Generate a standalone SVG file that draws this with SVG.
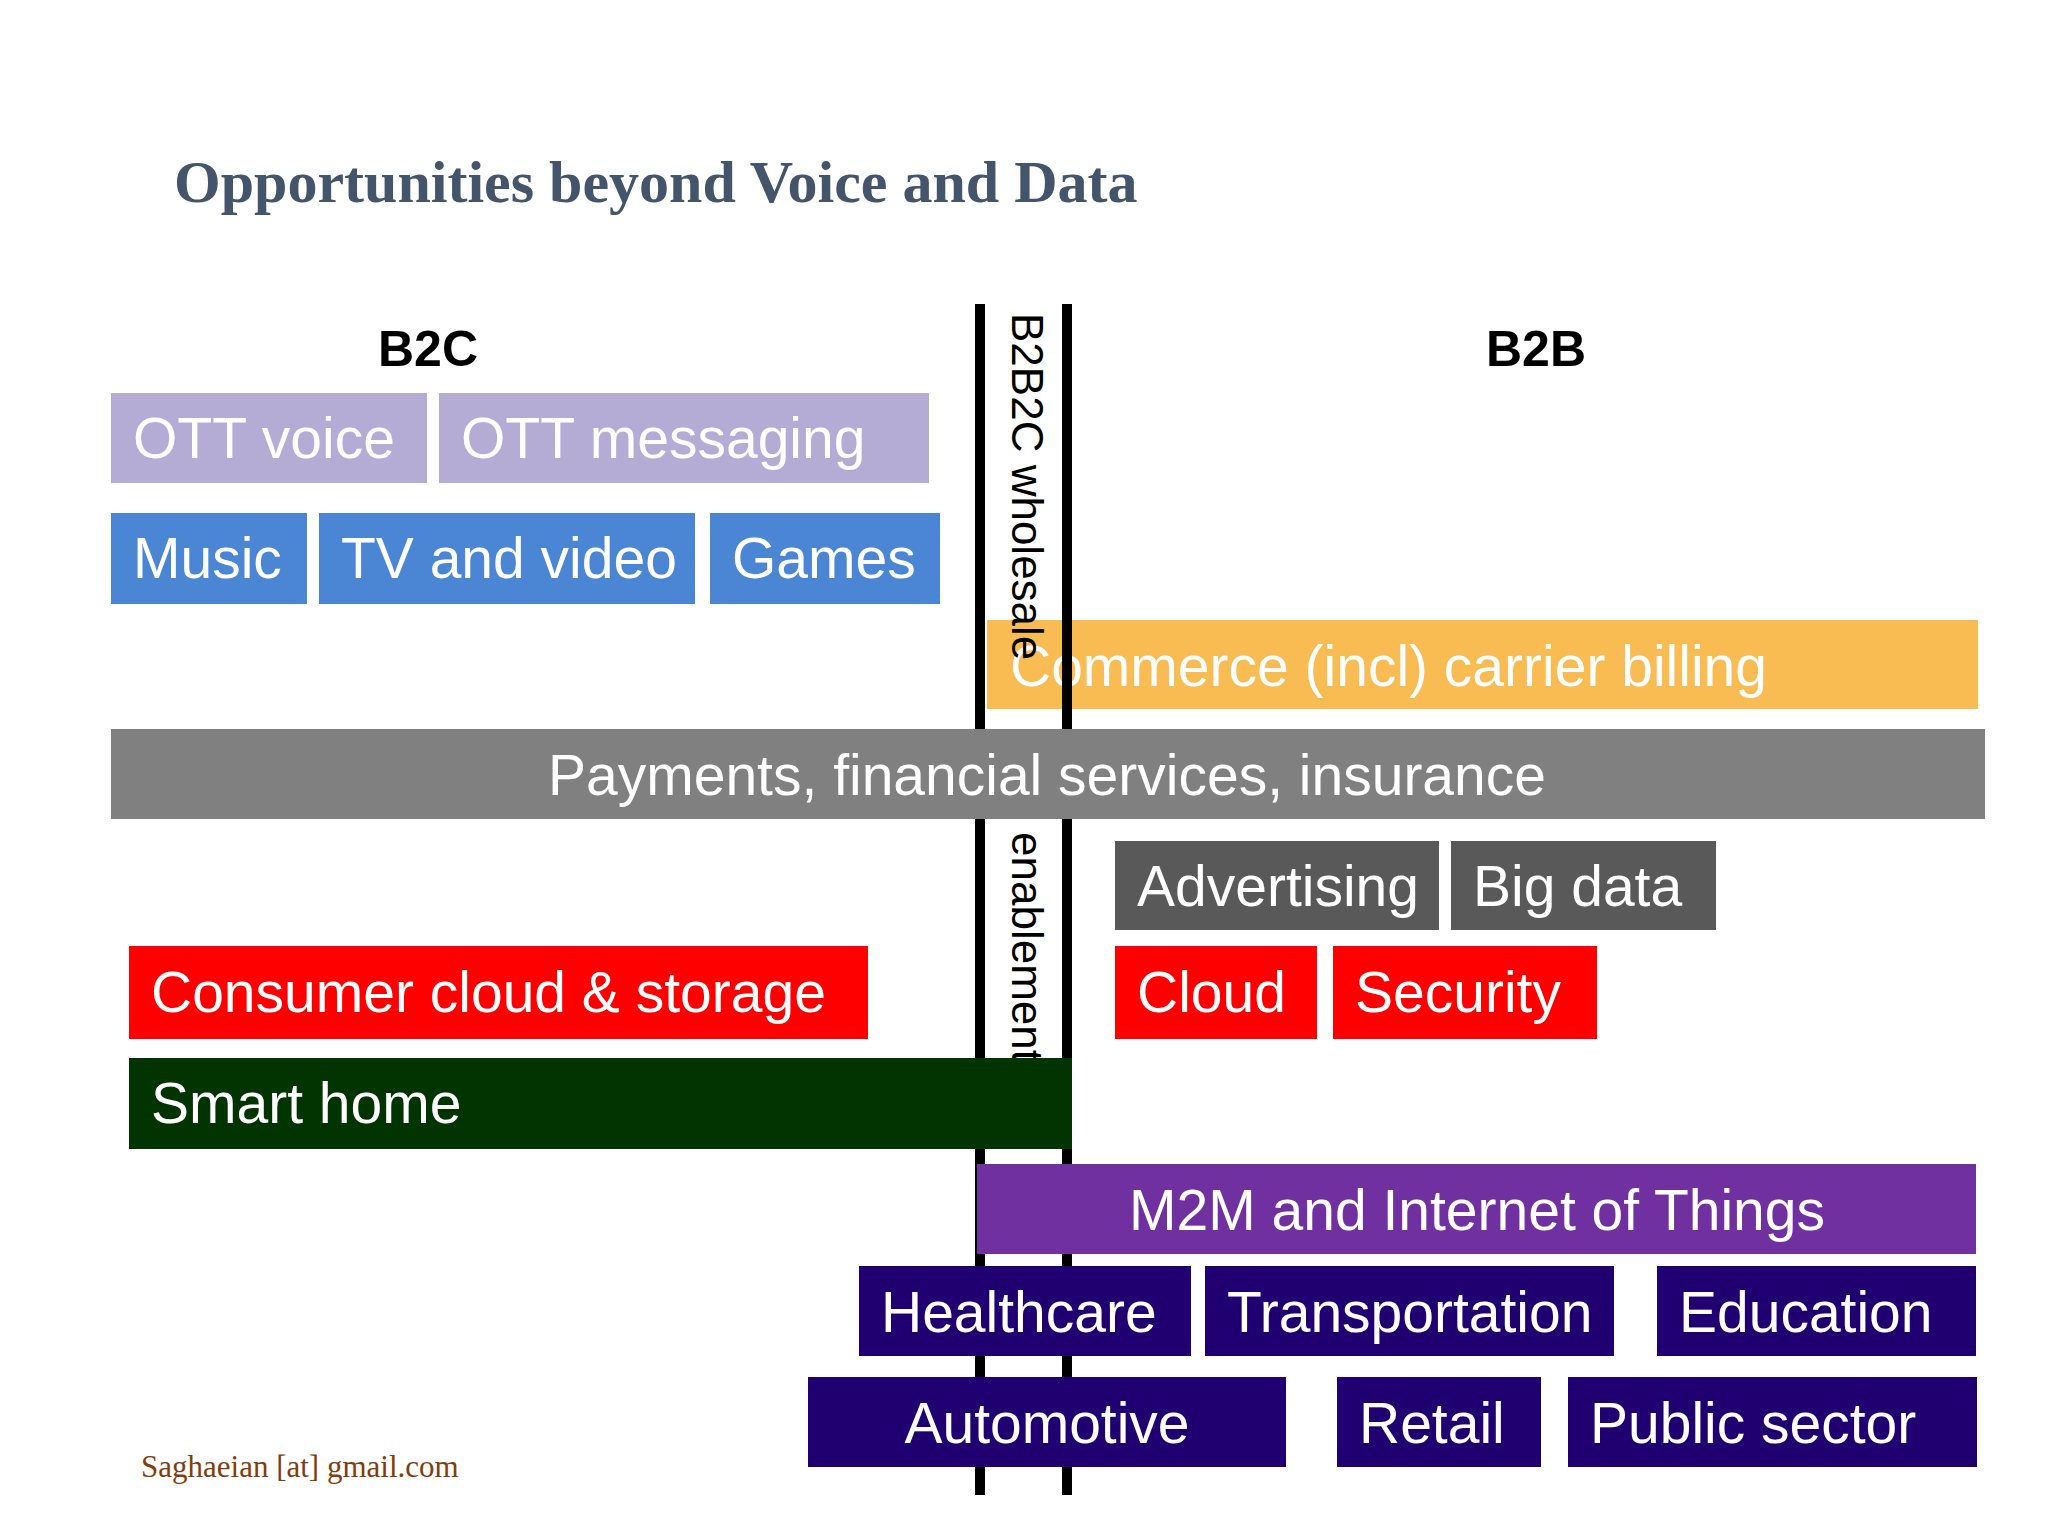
<svg xmlns="http://www.w3.org/2000/svg" width="2048" height="1536" viewBox="0 0 2048 1536">
<style>
.t{font-family:"Liberation Sans",Arial,sans-serif;font-size:57px;fill:#fff}
.c{text-anchor:middle}
.h{font-family:"Liberation Sans",Arial,sans-serif;font-size:50px;font-weight:bold;fill:#000;text-anchor:middle}
.v{font-family:"Liberation Sans",Arial,sans-serif;font-size:44px;fill:#000}
</style>
<rect width="2048" height="1536" fill="#fff"/>
<text x="174" y="202" font-family="Liberation Serif,serif" font-weight="bold" font-size="60" fill="#44546a">Opportunities beyond Voice and Data</text>
<text class="h" x="428" y="366">B2C</text>
<text class="h" x="1536" y="366">B2B</text>
<g id="commerce"><rect x="987" y="620" width="991" height="89" fill="#f9bc52"/><text class="t" x="1010" y="686">Commerce (incl) carrier billing</text></g>
<g id="connectors"><path d="M980 304V1495M1067 304V1495" stroke="#000" stroke-width="10"/></g>
<g id="b2b2c"><text class="v" transform="translate(1012,313) rotate(90)">B2B2C  wholesale</text><text class="v" transform="translate(1012,832) rotate(90)">enablement</text></g>
<g id="ott-voice"><rect x="111" y="393" width="316" height="90" fill="#b4acd4"/><text class="t" x="133" y="458" fill="#f5f5f5">OTT voice</text></g>
<g id="ott-msg"><rect x="439" y="393" width="490" height="90" fill="#b4acd4"/><text class="t" x="461" y="458">OTT messaging</text></g>
<g id="music"><rect x="111" y="513" width="196" height="91" fill="#4a86d4"/><text class="t" x="133" y="578">Music</text></g>
<g id="tv"><rect x="319" y="513" width="376" height="91" fill="#4a86d4"/><text class="t" x="341" y="578">TV and video</text></g>
<g id="games"><rect x="710" y="513" width="230" height="91" fill="#4a86d4"/><text class="t" x="732" y="578">Games</text></g>
<g id="payments"><rect x="111" y="729" width="1874" height="90" fill="#808080"/><text class="t c" x="1047" y="795">Payments, financial services, insurance</text></g>
<g id="advertising"><rect x="1115" y="841" width="324" height="89" fill="#595959"/><text class="t" x="1137" y="906">Advertising</text></g>
<g id="bigdata"><rect x="1451" y="841" width="265" height="89" fill="#595959"/><text class="t" x="1473" y="906">Big data</text></g>
<g id="consumer-cloud"><rect x="129" y="946" width="739" height="93" fill="#ff0000"/><text class="t" x="151" y="1012">Consumer cloud &amp; storage</text></g>
<g id="cloud"><rect x="1115" y="946" width="202" height="93" fill="#ff0000"/><text class="t" x="1137" y="1012">Cloud</text></g>
<g id="security"><rect x="1333" y="946" width="264" height="93" fill="#ff0000"/><text class="t" x="1355" y="1012">Security</text></g>
<g id="smart-home"><rect x="129" y="1058" width="943" height="91" fill="#013401"/><text class="t" x="151" y="1123">Smart home</text></g>
<g id="m2m"><rect x="977" y="1164" width="999" height="90" fill="#7030a0"/><text class="t c" x="1477" y="1230">M2M and Internet of Things</text></g>
<g id="healthcare"><rect x="859" y="1266" width="332" height="90" fill="#200070"/><text class="t" x="881" y="1332">Healthcare</text></g>
<g id="transportation"><rect x="1205" y="1266" width="409" height="90" fill="#200070"/><text class="t" x="1227" y="1332">Transportation</text></g>
<g id="education"><rect x="1657" y="1266" width="319" height="90" fill="#200070"/><text class="t" x="1679" y="1332">Education</text></g>
<g id="automotive"><rect x="808" y="1377" width="478" height="90" fill="#200070"/><text class="t c" x="1047" y="1443">Automotive</text></g>
<g id="retail"><rect x="1337" y="1377" width="204" height="90" fill="#200070"/><text class="t" x="1359" y="1443">Retail</text></g>
<g id="public"><rect x="1568" y="1377" width="409" height="90" fill="#200070"/><text class="t" x="1590" y="1443">Public sector</text></g>
<text x="141" y="1477" font-family="Liberation Serif,serif" font-size="31" fill="#843c0c">Saghaeian [at] gmail.com</text>
</svg>
